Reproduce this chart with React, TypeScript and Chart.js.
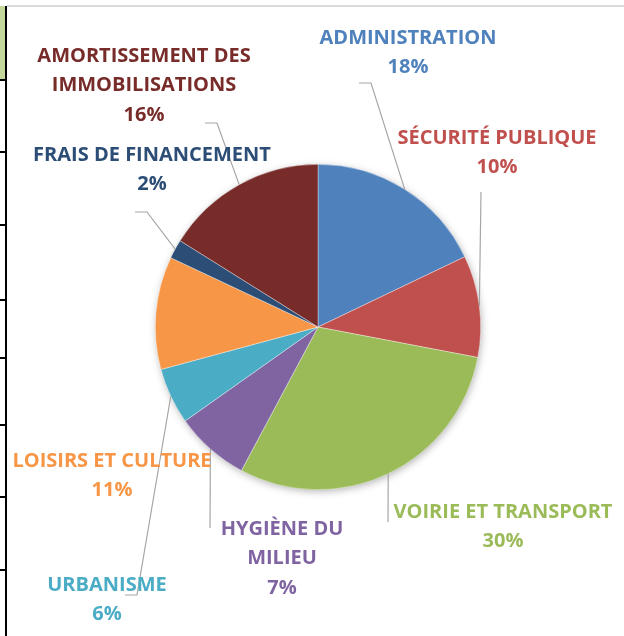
import React, { useEffect, useRef } from "react";
import { Chart, registerables } from "chart.js";

Chart.register(...registerables);

const categories = [
  "ADMINISTRATION",
  "SÉCURITÉ PUBLIQUE",
  "VOIRIE ET TRANSPORT",
  "HYGIÈNE DU MILIEU",
  "URBANISME",
  "LOISIRS ET CULTURE",
  "FRAIS DE FINANCEMENT",
  "AMORTISSEMENT DES IMMOBILISATIONS",
];
const values = [17.9, 10.1, 29.8, 7.4, 5.6, 11.2, 1.9, 16.1];
const colors = [
  "#4F81BD",
  "#C0504D",
  "#9BBB59",
  "#8064A2",
  "#4BACC6",
  "#F79646",
  "#2C4D75",
  "#772C2A",
];

// label layout: centre x, first-line centre y, wrap width, leader elbow points
const labelLayout = [
  { x: 408, y: 38, wrap: 400, leader: [[371, 83], [359, 83]] },
  { x: 497, y: 138, wrap: 400, leader: [[481, 192]] },
  { x: 503, y: 512, wrap: 400, leader: [[388, 522]] },
  { x: 282, y: 529, wrap: 150, leader: [[210, 528]] },
  { x: 107, y: 585, wrap: 400, leader: [[137, 595], [125, 595]] },
  { x: 112, y: 461, wrap: 400, leader: [] as number[][] },
  { x: 152, y: 155, wrap: 400, leader: [[147, 212], [135, 212]] },
  { x: 144, y: 56, wrap: 250, leader: [[217, 123], [205, 123]] },
];

const FONT = "bold 20px 'Open Sans'";
const LINE_H = 29.5;

function wrapText(ctx: CanvasRenderingContext2D, text: string, maxW: number) {
  const words = text.split(" ");
  const lines: string[] = [];
  let cur = "";
  for (const w of words) {
    const t = cur ? cur + " " + w : w;
    if (ctx.measureText(t).width > maxW && cur) {
      lines.push(cur);
      cur = w;
    } else cur = t;
  }
  if (cur) lines.push(cur);
  return lines;
}

const shadowPlugin = {
  id: "pieShadow",
  beforeDatasetsDraw(chart: any) {
    const meta = chart.getDatasetMeta(0);
    const a = meta.data[0];
    if (!a) return;
    const ctx = chart.ctx;
    ctx.save();
    ctx.shadowColor = "rgba(0,0,0,0.35)";
    ctx.shadowBlur = 8;
    ctx.shadowOffsetX = 1;
    ctx.shadowOffsetY = 2;
    ctx.fillStyle = "#ffffff";
    ctx.beginPath();
    ctx.arc(a.x, a.y, a.outerRadius - 1, 0, Math.PI * 2);
    ctx.fill();
    ctx.restore();
  },
};

const labelPlugin = {
  id: "outLabels",
  afterDatasetsDraw(chart: any) {
    const ctx: CanvasRenderingContext2D = chart.ctx;
    const meta = chart.getDatasetMeta(0);
    const total = values.reduce((s, v) => s + v, 0);
    ctx.save();
    // leader lines
    ctx.strokeStyle = "#A6A6A6";
    ctx.lineWidth = 1.2;
    meta.data.forEach((arc: any, i: number) => {
      const lay = labelLayout[i];
      if (!lay.leader.length) return;
      const mid = (arc.startAngle + arc.endAngle) / 2;
      const px = arc.x + Math.cos(mid) * arc.outerRadius;
      const py = arc.y + Math.sin(mid) * arc.outerRadius;
      ctx.beginPath();
      ctx.moveTo(px, py);
      lay.leader.forEach((p) => ctx.lineTo(p[0], p[1]));
      ctx.stroke();
    });
    // texts
    ctx.font = FONT;
    ctx.textAlign = "center";
    ctx.textBaseline = "middle";
    categories.forEach((c, i) => {
      const lay = labelLayout[i];
      const lines = wrapText(ctx, c, lay.wrap);
      lines.push(Math.round((values[i] / total) * 100) + "%");
      ctx.fillStyle = colors[i];
      lines.forEach((l, k) => ctx.fillText(l, lay.x, lay.y + k * LINE_H));
    });
    ctx.restore();
  },
};

export default function App() {
  const ref = useRef<HTMLCanvasElement>(null);
  useEffect(() => {
    if (!ref.current) return;
    const chart = new Chart(ref.current, {
      type: "pie",
      data: {
        labels: categories,
        datasets: [
          {
            data: values,
            backgroundColor: colors,
            borderColor: "rgba(255,255,255,0.6)",
            borderWidth: 0.6,
          },
        ],
      },
      options: {
        responsive: false,
        animation: false,
        layout: { padding: { left: 155, right: 143, top: 164, bottom: 146 } },
        plugins: {
          legend: { display: false },
          tooltip: { enabled: false },
        },
      },
      plugins: [shadowPlugin, labelPlugin],
    });
    return () => chart.destroy();
  }, []);

  const ticks = [80, 152, 225, 300, 358, 425, 497, 570];
  return (
    <div style={{ position: "absolute", left: 0, top: 0, width: 624, height: 636, background: "#fff", overflow: "hidden" }}>
      <div style={{ position: "absolute", left: 7, top: 5, width: 617, height: 2, background: "#D9D9D9" }} />
      <div style={{ position: "absolute", left: 0, top: 6, width: 5, height: 74, background: "#C4D79B" }} />
      <div style={{ position: "absolute", left: 5, top: 6, width: 2, height: 630, background: "#000" }} />
      {ticks.map((t) => (
        <div key={t} style={{ position: "absolute", left: 0, top: t - 1, width: 6, height: 2, background: "#000" }} />
      ))}
      <canvas ref={ref} width={624} height={636} style={{ position: "absolute", left: 0, top: 0 }} />
    </div>
  );
}
